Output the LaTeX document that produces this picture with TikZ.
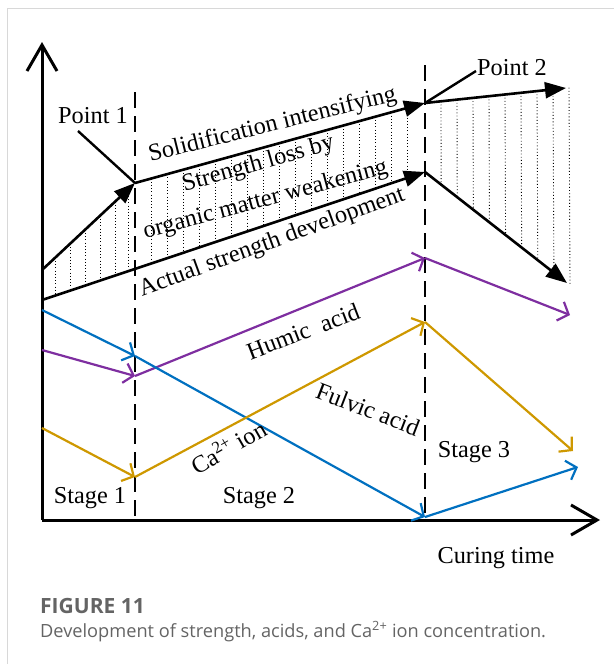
\documentclass[tikz,border=0pt]{standalone}
\usepackage{fontspec}
\setmainfont{Liberation Serif}
\newfontfamily\capfont{Open Sans}
\usetikzlibrary{arrows.meta,calc}
\definecolor{hpurple}{RGB}{126,46,160}
\definecolor{hblue}{RGB}{0,112,192}
\definecolor{horange}{RGB}{206,152,0}
\definecolor{framegray}{RGB}{216,216,216}
\definecolor{capgray}{RGB}{100,100,100}
\tikzset{
  axisline/.style={line width=3pt,-{Straight Barb[length=26pt,width=30pt,line width=3pt]}},
  blk/.style={line width=2.6pt,-{Triangle[length=21pt,width=16pt]}},
  plainblk/.style={line width=2.4pt},
  col/.style={line width=2.2pt,-{Straight Barb[length=9pt,width=20pt,line width=2.2pt]}},
  stagedash/.style={line width=2.6pt,dash pattern=on 16pt off 8pt},
  hatch/.style={line width=0.9pt,dash pattern=on 0.9pt off 2.3pt},
  lbl/.style={font=\fontsize{24.3}{29}\selectfont,inner sep=0pt,anchor=base},
}
\begin{document}
\begin{tikzpicture}[x=1pt,y=-1pt]
\useasboundingbox (0,0) rectangle (614,664);
\draw[framegray,line width=1pt] (7,664) -- (7,8) -- (614,8);

% key coordinates
\coordinate (o) at (42,520);
\coordinate (ytop) at (42,42);
\coordinate (xend) at (600,520);
\coordinate (s0) at (42,270);
\coordinate (p1) at (135,183);
\coordinate (p2) at (425,103);
\coordinate (e1) at (566,88);
\coordinate (a0) at (42,300);
\coordinate (a1) at (135,268.9);
\coordinate (a2) at (425,172);
\coordinate (e2) at (567,283);

% hatching
\foreach \x in {55,70,85,100,115,128}{
  \pgfmathsetmacro\t{(\x-42)/93}
  \draw[hatch] ($(s0)!\t!(p1)$) -- ($(a0)!\t!(a1)$);
}
\foreach \x in {151,167,...,410}{
  \pgfmathsetmacro\t{(\x-135)/290}
  \draw[hatch] ($(p1)!\t!(p2)$) -- ($(a1)!\t!(a2)$);
}
\foreach \x in {441,457,...,569}{
  \pgfmathsetmacro\t{(\x-425)/141}
  \draw[hatch] ($(p2)!\t!(e1)$) -- ($(a2)!\t!(e2)$);
}

% stage separators
\coordinate (d1t) at (135,92);
\coordinate (d1b) at (135,518);
\coordinate (d2t) at (425,65);
\coordinate (d2b) at (425,518);
\draw[stagedash] (d1t) -- (d1b);
\draw[stagedash] (d2t) -- (d2b);

% axes
\draw[axisline] (o) -- (ytop);
\draw[axisline] (o) -- (xend);

% strength curves
\draw[blk] (s0) -- (p1);
\draw[blk] (p1) -- (p2);
\draw[blk] (p2) -- (e1);
\draw[blk] (a0) -- (a2);
\draw[blk] (a2) -- (e2);

% colored curves
\coordinate (h0) at (42,350);
\coordinate (h1) at (135,376);
\coordinate (h2) at (425,258);
\coordinate (h3) at (570,315);
\draw[col,hpurple] (h0) -- (h1);
\draw[col,hpurple] (h1) -- (h2);
\draw[col,hpurple] (h2) -- (h3);

\coordinate (b0) at (42,310);
\coordinate (b1) at (135,356);
\coordinate (b2) at (425,517);
\coordinate (b3) at (578,467);
\draw[col,hblue] (b0) -- (b1);
\draw[col,hblue] (b1) -- (b2);
\draw[col,hblue] (b2) -- (b3);

\coordinate (f0) at (42,428);
\coordinate (f1) at (135,477);
\coordinate (f2) at (425,322);
\coordinate (f3) at (573,451);
\draw[col,horange] (f0) -- (f1);
\draw[col,horange] (f1) -- (f2);
\draw[col,horange] (f2) -- (f3);

% point labels
\node[lbl] (pt1) at (93,123) {Point 1};
\node[lbl] (pt2) at (512,75) {Point 2};
\coordinate (pt1s) at (78,131);
\coordinate (pt2s) at (476,71);
\draw[plainblk] (pt1s) -- (p1);
\draw[plainblk] (pt2s) -- (p2);

% rotated labels
\node[lbl,rotate=14] (sol) at (274,131) {Solidification intensifying};
\node[lbl,rotate=16] (slb) at (260,170) {Strength loss by};
\node[lbl,rotate=15] (omw) at (267,206) {organic matter weakening};
\node[lbl,rotate=20] (asd) at (274,248) {Actual strength development};
\node[lbl,rotate=21] (hum) at (306,339) {Humic\ \ acid};
\node[lbl,rotate=-21] (ful) at (365,417) {Fulvic acid};
\node[lbl,rotate=30] (ca) at (233,455) {Ca\textsuperscript{2+} ion};

% stages
\node[lbl] (st1) at (90,503) {Stage 1};
\node[lbl] (st2) at (259,503) {Stage 2};
\node[lbl] (st3) at (474,457) {Stage 3};
\node[lbl] (ct) at (496,563) {Curing time};

% caption
\node[anchor=base west,inner sep=0pt,text=capgray,font=\capfont\bfseries\fontsize{21}{24}\selectfont] (fig) at (40,613) {FIGURE 11};
\node[anchor=base west,inner sep=0pt,text=capgray,font=\capfont\fontsize{18.2}{22}\selectfont] (cap) at (40,637) {Development of strength, acids, and Ca\textsuperscript{2+} ion concentration.};
\end{tikzpicture}
\end{document}
